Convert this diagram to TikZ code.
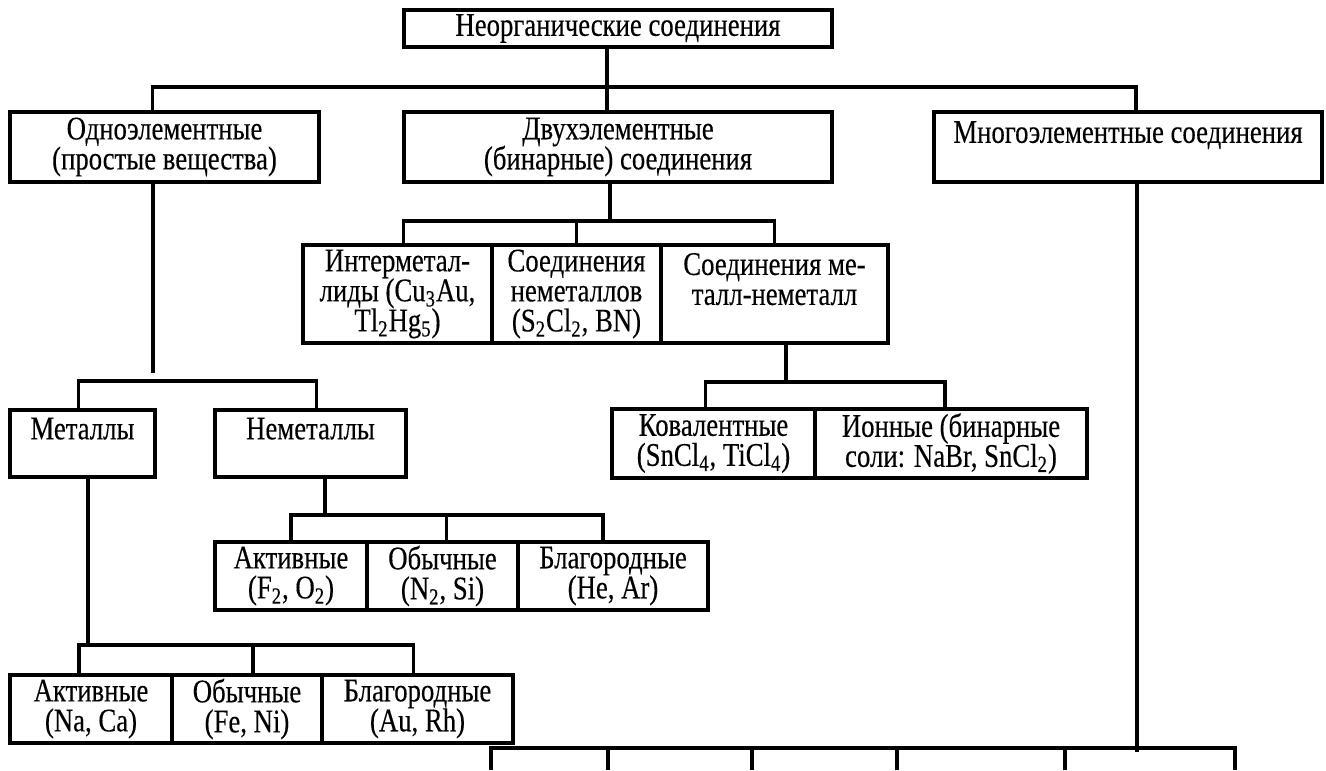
\documentclass[tikz,border=0pt]{standalone}
\usepackage{fontspec}
\setmainfont{Liberation Serif}[FakeStretch=0.81,FakeBold=0.3]
\newcommand{\boxfont}{\fontsize{16.5}{15}\selectfont\lineskiplimit=-6pt}

\begin{document}
\begin{tikzpicture}[x=0.5pt,y=-0.5pt,
  box/.style={draw,line width=2.4pt,inner sep=0pt,align=center,font=\boxfont},
  boxsize/.style 2 args={minimum width=#1*0.5pt,minimum height=#2*0.5pt},
  link/.style={line width=1.9pt}]
\useasboundingbox (0,0) rectangle (1326,770);
% Root and the three main classes
\node[box,boxsize={428}{37}] (root) at (618,28.5) {Неорганические соединения};
\node[box,boxsize={309}{70}] (one) at (164.5,147) {Одноэлементные\\(простые вещества)};
\node[box,boxsize={428}{70}] (two) at (618,147) {Двухэлементные\\(бинарные) соединения};
\node[box,boxsize={388}{70}] (many) at (1128,147) {Многоэлементные соединения\\~};
% Binary compounds
\node[box,boxsize={189}{98}] (inter) at (397.5,294) {Интерметал-\\лиды (Cu\textsubscript{3}Au,\\Tl\textsubscript{2}Hg\textsubscript{5})};
\node[box,boxsize={169}{98}] (nmc) at (576.5,294) {Соединения\\неметаллов\\(S\textsubscript{2}Cl\textsubscript{2}, BN)};
\node[box,boxsize={227}{98}] (mnm) at (774.5,294) {Соединения ме-\\талл-неметалл\\~};
\node[box,boxsize={203}{69}] (cov) at (713.5,443.5) {Ковалентные\\(SnCl\textsubscript{4}, TiCl\textsubscript{4})};
\node[box,boxsize={272}{69}] (ion) at (951,443.5) {Ионные (бинарные\\соли: NaBr, SnCl\textsubscript{2})};
% Simple substances
\node[box,boxsize={145}{67}] (met) at (82.5,443.5) {Металлы\\~};
\node[box,boxsize={191}{67}] (nonmet) at (310.5,443.5) {Неметаллы\\~};
\foreach \name/\cx/\w/\txt in {na/291/152/{Активные\\(F\textsubscript{2}, O\textsubscript{2})},
    nu/442.5/151/{Обычные\\(N\textsubscript{2}, Si)},nb/613/190/{Благородные\\(He, Ar)}}
  \node[box,boxsize={\w}{68}] (\name) at (\cx,576) {\txt};
\foreach \name/\cx/\w/\txt in {ma/91/162/{Активные\\(Na, Ca)},
    mu/247/150/{Обычные\\(Fe, Ni)},mb/417.5/191/{Благородные\\(Au, Rh)}}
  \node[box,boxsize={\w}{68}] (\name) at (\cx,709) {\txt};
% Connectors
\coordinate (rootbar) at (607,87);
\draw[link] (root.south -| rootbar) -- (two.north -| rootbar);
\draw[link] ([xshift=-6pt]one.north) |- (rootbar) -| ([xshift=4pt]many.north);
\coordinate (onebar) at (153,381);
\draw[link] (onebar |- one.south) -- ([yshift=4pt]onebar);
\draw[link] ([xshift=-2pt]met.north) |- (onebar) -| ([xshift=3pt]nonmet.north);
\coordinate (twobar) at (610,221);
\draw[link] (two.south -| twobar) -- (twobar);
\draw[link] ([xshift=3pt]inter.north) |- (twobar) -| (mnm.north) (nmc.north) -- (nmc.north |- twobar);
\coordinate (mnmbar) at (786,382);
\draw[link] (mnm.south -| mnmbar) -- (mnmbar);
\draw[link] ([xshift=-4pt]cov.north) |- (mnmbar) -| ([xshift=-3pt]ion.north);
\coordinate (nonbar) at (325,515);
\draw[link] (nonmet.south -| nonbar) -- (nonbar);
\draw[link] (na.north) |- (nonbar) -| ([xshift=-5pt]nb.north) ([xshift=2pt]nu.north) -- ([xshift=2pt]nu.north |- nonbar);
\coordinate (metbar) at (88,645);
\draw[link] (met.south -| metbar) -- (metbar);
\draw[link] ([xshift=-6pt]ma.north) |- (metbar) -| ([xshift=-2pt]mb.north) ([xshift=3pt]mu.north) -- ([xshift=3pt]mu.north |- metbar);
% Many-element compounds: open branches at the lower edge
\coordinate (manybar) at (1137,748);
\draw[link] (many.south -| manybar) -- ([yshift=-2pt]manybar);
\foreach \tx [count=\i] in {491,608,752,897,1065,1235}
  \coordinate (tick\i) at (\tx,770);
\draw[link] (tick1) |- (manybar) -| (tick6);
\foreach \i in {2,3,4,5}
  \draw[link] (tick\i) -- (tick\i |- manybar);
\end{tikzpicture}
\end{document}
